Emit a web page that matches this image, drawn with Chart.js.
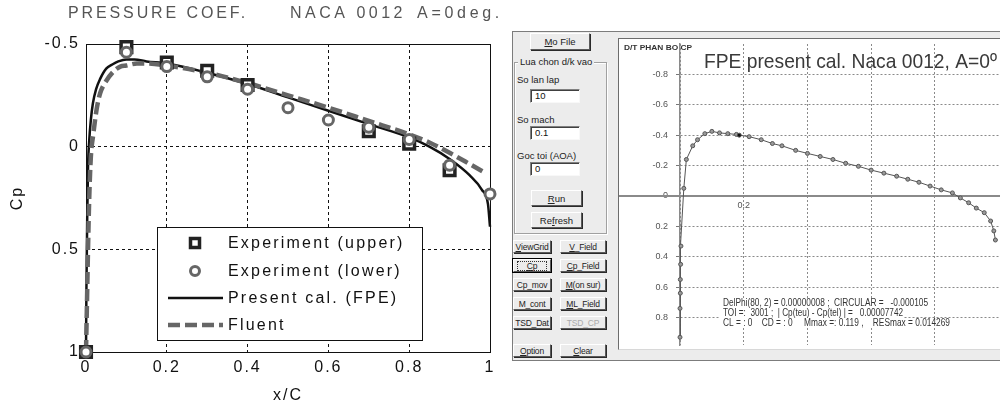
<!DOCTYPE html>
<html>
<head>
<meta charset="utf-8">
<title>Pressure coefficient - NACA 0012</title>
<script src="https://cdn.jsdelivr.net/npm/chart.js@4.4.1/dist/chart.umd.min.js"></script>
<style>
  html, body { margin: 0; padding: 0; width: 1000px; height: 405px; overflow: hidden; background: #fff; }
  body { position: relative; font-family: "Liberation Sans", Arial, sans-serif; }
  #cpLeft { position: absolute; left: 0; top: 0; }
  #win { position: absolute; left: 512px; top: 31px; width: 520px; height: 328px; background: #ececec; border: 1px solid #7c7c7c; border-right: none; }
  #frame { position: absolute; left: 618px; top: 38px; width: 420px; height: 312px; background: #fff; border-top: 1px solid #6c6c6c; border-left: 1px solid #6c6c6c; border-bottom: 1px solid #d8d8d8; box-sizing: border-box; }
  #cpRight { position: absolute; left: 619px; top: 39px; }
  .lbl { position: absolute; font-size: 9.5px; color: #222; white-space: nowrap; line-height: 11px; }
  .grp { position: absolute; box-sizing: border-box; border: 1px solid #a0a0a0; box-shadow: inset 1px 1px 0 #fff, 1px 1px 0 #fff; }
  .inp { position: absolute; width: 50px; height: 14px; box-sizing: border-box; background: #fff; border: 1px solid; border-color: #808080 #f8f8f8 #f8f8f8 #808080; box-shadow: inset 1px 1px 0 #404040; font-size: 9.5px; line-height: 12px; padding-left: 4px; color: #111; }
  .btn { position: absolute; box-sizing: border-box; background: #ececec; border: 1px solid; border-color: #fff #5a5a5a #5a5a5a #fff; box-shadow: 1px 1px 0 #2a2a2a; font-size: 9.5px; color: #222; display: flex; align-items: center; justify-content: center; white-space: nowrap; overflow: hidden; }
  .btn.sm { font-size: 8.5px; letter-spacing: -0.2px; }
  .btn.off { color: #aaa; }
  .btn.def { outline: 1px solid #000; }
  .btn.def span { outline: 1px dotted #333; padding: 0 9px; line-height: 8px; }
</style>
</head>
<body>
<canvas id="cpLeft" width="510" height="405"></canvas>

<div id="win"></div>
<div class="btn" style="left:530px;top:33px;width:60px;height:17px"><u>M</u>o File</div>
<div class="grp" style="left:514px;top:62px;width:93px;height:172px"></div>
<div class="lbl" style="left:518px;top:56px;background:#ececec;padding:0 2px">Lua chon d/k vao</div>
<div class="lbl" style="left:517px;top:74px">So lan lap</div>
<div class="inp" style="left:530px;top:89px">10</div>
<div class="lbl" style="left:517px;top:114px">So mach</div>
<div class="inp" style="left:530px;top:126px">0.1</div>
<div class="lbl" style="left:517px;top:150px">Goc toi (AOA)</div>
<div class="inp" style="left:530px;top:162px">0</div>
<div class="btn" style="left:531px;top:190px;width:51px;height:16px"><u>R</u>un</div>
<div class="btn" style="left:531px;top:212px;width:51px;height:16px">Re<u>f</u>resh</div>

<div class="btn sm" style="left:513px;top:240px;width:38px;height:13px"><u>V</u>iewGrid</div>
<div class="btn sm" style="left:560px;top:240px;width:46px;height:13px"><u>V</u>_Field</div>
<div class="btn sm def" style="left:513px;top:259px;width:38px;height:13px"><span><u>C</u>p</span></div>
<div class="btn sm" style="left:560px;top:259px;width:46px;height:13px"><u>C</u>p_Field</div>
<div class="btn sm" style="left:513px;top:278px;width:38px;height:13px">Cp_mov</div>
<div class="btn sm" style="left:560px;top:278px;width:46px;height:13px"><u>M</u> (on sur)</div>
<div class="btn sm" style="left:513px;top:297px;width:38px;height:13px">M_cont</div>
<div class="btn sm" style="left:560px;top:297px;width:46px;height:13px"><u>M</u>L_Field</div>
<div class="btn sm" style="left:513px;top:316px;width:38px;height:13px">TSD_Dat</div>
<div class="btn sm off" style="left:560px;top:316px;width:46px;height:13px">TSD_CP</div>
<div class="btn sm" style="left:513px;top:344px;width:38px;height:13px"><u>O</u>ption</div>
<div class="btn sm" style="left:560px;top:344px;width:46px;height:13px"><u>C</u>lear</div>

<div id="frame"></div>
<canvas id="cpRight" width="391" height="311"></canvas>

<script>
// ---- left chart: experiment vs. computations ----
const upperX = [0, 0.1, 0.2, 0.3, 0.4, 0.7, 0.8, 0.9];
const upperCp = [1, -0.485, -0.41, -0.37, -0.30, -0.075, -0.015, 0.115];

const lowerX = [0, 0.1, 0.2, 0.3, 0.4, 0.5, 0.6, 0.7, 0.8, 0.9, 1.0];
const lowerCp = [1, -0.46, -0.39, -0.34, -0.28, -0.19, -0.13, -0.095, -0.035, 0.09, 0.23];

const fpeX = [0, 0.001, 0.003, 0.005, 0.008, 0.012, 0.017, 0.025, 0.035, 0.05, 0.065, 0.08, 0.1, 0.12, 0.15, 0.2, 0.3, 0.4, 0.5, 0.6, 0.7, 0.8, 0.85, 0.9, 0.95, 0.98, 0.995, 1.0];
const fpeCp = [1, 0.7, 0.35, 0.1, -0.03, -0.13, -0.21, -0.28, -0.33, -0.38, -0.40, -0.415, -0.425, -0.425, -0.415, -0.405, -0.36, -0.305, -0.24, -0.175, -0.11, -0.045, 0.0, 0.06, 0.14, 0.21, 0.28, 0.39];

const fluentX = [0, 0.002, 0.005, 0.008, 0.012, 0.018, 0.027, 0.035, 0.05, 0.07, 0.085, 0.1, 0.126, 0.15, 0.2, 0.3, 0.4, 0.5, 0.6, 0.7, 0.8, 0.85, 0.9, 0.95, 0.99];
const fluentCp = [1, 0.8, 0.5, 0.25, 0.05, -0.06, -0.19, -0.26, -0.32, -0.37, -0.39, -0.395, -0.405, -0.405, -0.395, -0.36, -0.31, -0.25, -0.19, -0.125, -0.06, -0.02, 0.03, 0.085, 0.13];

const leftXTicks = [0, 0.2, 0.4, 0.6, 0.8, 1];
const leftXLabels = ['0', '0.2', '0.4', '0.6', '0.8', '1'];
const leftYTicks = [-0.5, 0, 0.5, 1];
const leftYLabels = ['-0.5', '0', '0.5', '1'];

// ---- right chart: program screenshot, FPE calculation ----
const calX = [0, 0, 0.001, 0.001, 0.002, 0.003, 0.012, 0.02, 0.04, 0.055, 0.078, 0.1, 0.124, 0.15, 0.177, 0.186, 0.217, 0.255, 0.29, 0.32, 0.363, 0.40, 0.44, 0.48, 0.52, 0.56, 0.60, 0.64, 0.68, 0.715, 0.75, 0.785, 0.82, 0.855, 0.88, 0.906, 0.93, 0.955, 0.975, 0.985, 0.99];
const calCp = [0.93, 0.74, 0.64, 0.55, 0.45, 0.33, -0.05, -0.24, -0.33, -0.37, -0.41, -0.425, -0.415, -0.41, -0.405, -0.40, -0.39, -0.37, -0.345, -0.33, -0.30, -0.28, -0.26, -0.24, -0.215, -0.195, -0.17, -0.15, -0.13, -0.11, -0.09, -0.065, -0.04, -0.02, 0.013, 0.045, 0.08, 0.11, 0.165, 0.23, 0.29];
const calMarked = 0.186; // point shown darker

const rightXTicks = [0, 0.2, 0.4, 0.6, 0.8];
const rightXLabels = ['', '0.2', '', '', ''];
const rightYTicks = [-0.8, -0.6, -0.4, -0.2, 0, 0.2, 0.4, 0.6, 0.8];
const rightYLabels = ['-0.8', '-0.6', '-0.4', '-0.2', '0', '0.2', '0.4', '0.6', '0.8'];

const infoLines = [
  'DelPhi(80, 2) = 0.00000008 ;  CIRCULAR =   -0.000105',
  'TOI =:  3001 ;  | Cp(teu) - Cp(tel) | =   0.00007742',
  'CL = : 0    CD = : 0     Mmax =: 0.119 ,    RESmax = 0.014269'
];

const toPts = (xs, ys) => xs.map((x, i) => ({ x: x, y: ys[i] }));

Chart.defaults.font.family = '"Liberation Sans", Arial, sans-serif';

// text spread out to a given width (the old plot uses wide letter spacing)
function spacedText(ctx, text, x, y, w) {
  ctx.letterSpacing = '0px';
  const m = ctx.measureText(text).width;
  ctx.letterSpacing = ((w - m) / [...text].length) + 'px';
  ctx.fillText(text, x, y);
  ctx.letterSpacing = '0px';
}
// text squeezed / stretched horizontally to a given width
function fitText(ctx, text, x, y, w) {
  const m = ctx.measureText(text).width;
  ctx.save();
  ctx.translate(x, y);
  ctx.scale(w / m, 1);
  ctx.fillText(text, 0, 0);
  ctx.restore();
}

const leftDecor = {
  id: 'leftDecor',
  beforeDraw(chart) {
    chart.ctx.letterSpacing = '2px';
  },
  beforeDatasetsDraw(chart) {
    const { ctx, chartArea: a } = chart;
    ctx.save();
    ctx.strokeStyle = '#111';
    ctx.lineWidth = 1;
    ctx.strokeRect(Math.round(a.left) + 0.5, Math.round(a.top) + 0.5, Math.round(a.right - a.left), Math.round(a.bottom - a.top));
    ctx.restore();
  },
  afterDraw(chart) {
    const ctx = chart.ctx;
    ctx.save();
    // title
    ctx.fillStyle = '#555';
    ctx.font = '16px "Liberation Sans", Arial, sans-serif';
    ctx.textBaseline = 'middle';
    ctx.textAlign = 'left';
    spacedText(ctx, 'PRESSURE COEF.', 68, 14, 180);
    spacedText(ctx, 'NACA 0012', 290, 14, 116);
    spacedText(ctx, 'A=0deg.', 417, 14, 86);

    // legend box
    ctx.fillStyle = '#fff';
    ctx.fillRect(157, 227, 265, 113);
    ctx.strokeStyle = '#111';
    ctx.lineWidth = 1;
    ctx.strokeRect(157.5, 227.5, 265, 113);
    const rows = [243, 271, 298, 325];
    chart.data.datasets.forEach((d, i) => {
      const y = rows[i];
      ctx.save();
      if (d.showLine) {
        ctx.strokeStyle = d.borderColor;
        ctx.lineWidth = d.borderWidth;
        ctx.setLineDash(d.borderDash || []);
        ctx.beginPath();
        ctx.moveTo(168, y);
        ctx.lineTo(223, y);
        ctx.stroke();
      } else {
        ctx.fillStyle = d.pointBackgroundColor;
        ctx.strokeStyle = d.pointBorderColor;
        ctx.lineWidth = d.pointBorderWidth;
        ctx.beginPath();
        if (d.pointStyle === 'rect') ctx.rect(190.5, y - 4.5, 9, 9);
        else ctx.arc(195, y, 4.5, 0, Math.PI * 2);
        ctx.fill();
        ctx.stroke();
      }
      ctx.restore();
      ctx.fillStyle = '#111';
      ctx.font = '16px "Liberation Sans", Arial, sans-serif';
      ctx.textBaseline = 'middle';
      ctx.letterSpacing = '2.2px';
      ctx.fillText(d.label, 228, y + 1);
      ctx.letterSpacing = '0px';
    });
    ctx.restore();
  }
};

new Chart(document.getElementById('cpLeft'), {
  type: 'scatter',
  data: {
    datasets: [
      { label: 'Experiment (upper)', data: toPts(upperX, upperCp), pointStyle: 'rect', pointRadius: 7.5,
        pointBorderWidth: 3.5, pointBorderColor: '#222', pointBackgroundColor: '#fff', order: 2, clip: false },
      { label: 'Experiment (lower)', data: toPts(lowerX, lowerCp), pointStyle: 'circle', pointRadius: 5,
        pointBorderWidth: 3, pointBorderColor: '#666', pointBackgroundColor: '#fff', order: 1, clip: false },
      { label: 'Present cal. (FPE)', data: toPts(fpeX, fpeCp), showLine: true, pointRadius: 0,
        borderColor: '#111', borderWidth: 2.5, cubicInterpolationMode: 'monotone', order: 4, clip: false },
      { label: 'Fluent', data: toPts(fluentX, fluentCp), showLine: true, pointRadius: 0,
        borderColor: '#666', borderWidth: 4.5, borderDash: [12, 5], cubicInterpolationMode: 'monotone', order: 3, clip: false }
    ]
  },
  options: {
    responsive: false,
    animation: false,
    layout: { padding: { top: 44, right: 20, left: 0, bottom: 0 } },
    plugins: { legend: { display: false }, tooltip: { enabled: false } },
    scales: {
      x: {
        type: 'linear', min: 0, max: 1,
        afterBuildTicks: s => { s.ticks = leftXTicks.map(v => ({ value: v })); },
        afterFit: s => { s.height = 53; s.paddingLeft = 0; s.paddingRight = 0; },
        ticks: { callback: (v, i) => leftXLabels[i], color: '#111', font: { size: 16 }, padding: 6, maxRotation: 0, autoSkip: false },
        grid: { color: '#111', lineWidth: 1, drawTicks: false },
        border: { display: false, dash: [3, 3] },
        title: { display: true, text: 'x/C', color: '#111', font: { size: 16 }, padding: { top: 0, bottom: 0 } }
      },
      y: {
        type: 'linear', reverse: true, min: -0.5, max: 1,
        afterBuildTicks: s => { s.ticks = leftYTicks.map(v => ({ value: v })); },
        afterFit: s => { s.width = 86; s.paddingTop = 0; s.paddingBottom = 0; },
        ticks: { callback: (v, i) => leftYLabels[i], color: '#111', font: { size: 16 }, padding: 6, autoSkip: false },
        grid: { color: '#111', lineWidth: 1, drawTicks: false },
        border: { display: false, dash: [3, 3] },
        title: { display: true, text: 'Cp', color: '#111', font: { size: 16 }, padding: { top: 8, bottom: 0 } }
      }
    }
  },
  plugins: [leftDecor]
});

const rightDecor = {
  id: 'rightDecor',
  beforeDatasetsDraw(chart) {
    // horizontal axis line runs on to the left edge of the frame
    const { ctx, chartArea: a, scales } = chart;
    const y0 = Math.round(scales.y.getPixelForValue(0));
    ctx.save();
    ctx.strokeStyle = '#8a8a8a';
    ctx.lineWidth = 2;
    ctx.beginPath();
    ctx.moveTo(0, y0);
    ctx.lineTo(a.left, y0);
    ctx.stroke();
    ctx.restore();
  },
  afterDraw(chart) {
    const ctx = chart.ctx;
    ctx.save();
    ctx.textAlign = 'left';
    // frame caption
    ctx.fillStyle = '#333';
    ctx.font = 'bold 7.5px "Liberation Sans", Arial, sans-serif';
    ctx.textBaseline = 'middle';
    fitText(ctx, 'D/T PHAN BO CP', 5, 9, 68);
    // chart title
    ctx.fillStyle = '#3a3a3a';
    ctx.font = '21px "Liberation Sans", Arial, sans-serif';
    ctx.textBaseline = 'alphabetic';
    fitText(ctx, 'FPE present cal. Naca 0012, A=0º', 85, 29, 293);
    // run info on white ground
    ctx.font = '10px "Liberation Sans", Arial, sans-serif';
    ctx.textBaseline = 'middle';
    const widths = [205, 180, 227];
    infoLines.forEach((t, i) => {
      const y = 264 + i * 10;
      ctx.fillStyle = '#fff';
      ctx.fillRect(101, y - 5, widths[i] + 4, 10);
      ctx.fillStyle = '#333';
      fitText(ctx, t, 104, y, widths[i]);
    });
    ctx.restore();
  }
};

new Chart(document.getElementById('cpRight'), {
  type: 'scatter',
  data: {
    datasets: [{
      label: 'FPE present cal.',
      data: toPts(calX, calCp),
      showLine: true,
      borderColor: '#555',
      borderWidth: 1,
      pointRadius: 2,
      pointBorderWidth: 1,
      pointBorderColor: '#555',
      pointBackgroundColor: calX.map(x => x === calMarked ? '#111' : '#9a9a9a'),
      clip: false
    }]
  },
  options: {
    responsive: false,
    animation: false,
    layout: { padding: 0 },
    plugins: { legend: { display: false }, tooltip: { enabled: false } },
    scales: {
      x: {
        type: 'linear', position: { y: 0 }, min: 0, max: 1.0201,
        afterBuildTicks: s => { s.ticks = rightXTicks.map(v => ({ value: v })); },
        afterFit: s => { s.height = 0; s.paddingLeft = 0; s.paddingRight = 0; },
        ticks: { callback: (v, i) => rightXLabels[i], color: '#555', font: { size: 9 }, padding: 4, maxRotation: 0, autoSkip: false },
        grid: { color: '#8a8a8a', lineWidth: 1, drawTicks: false },
        border: { color: '#8a8a8a', width: 2, dash: [2, 2] }
      },
      y: {
        type: 'linear', position: 'left', reverse: true, min: -1.0, max: 0.981,
        afterBuildTicks: s => { s.ticks = rightYTicks.map(v => ({ value: v })); },
        afterFit: s => { s.width = 61; s.paddingTop = 0; s.paddingBottom = 0; },
        ticks: { callback: (v, i) => rightYLabels[i], color: '#555', font: { size: 9 }, padding: 8, autoSkip: false },
        grid: { color: '#8a8a8a', lineWidth: 1, tickLength: 4, tickColor: '#777' },
        border: { color: '#8a8a8a', width: 1.5, dash: [2, 2] }
      }
    }
  },
  plugins: [rightDecor]
});
</script>
</body>
</html>
